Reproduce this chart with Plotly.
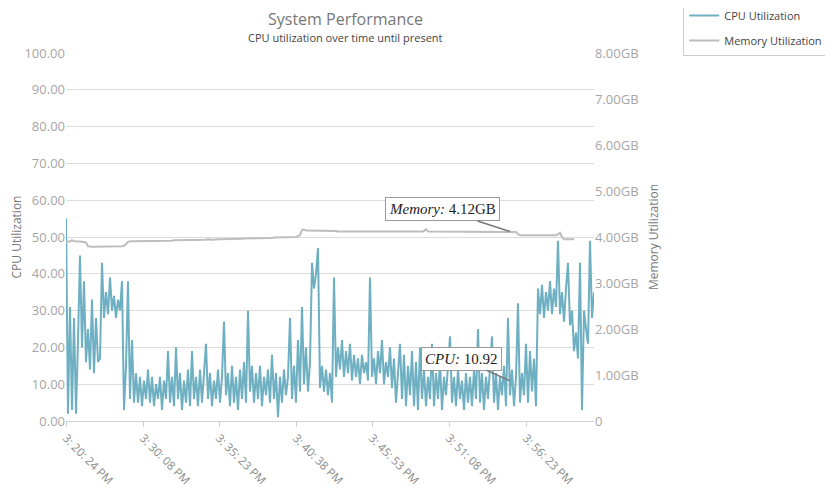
import plotly.graph_objects as go

# CPU utilization (%) per sample
cpu_util = [
    55, 2, 31, 3, 28, 2, 22, 45, 20, 38, 16, 25, 14, 33, 13, 28, 16, 17, 43, 28,
    35, 29, 39, 30, 34, 28, 33, 30, 38, 3, 15, 38, 6, 22, 5, 13, 5, 12, 4, 11,
    6, 14, 5, 12, 4, 10, 6, 12, 3, 11, 6, 19, 5, 12, 4, 20, 6, 13, 3, 11,
    5, 14, 4, 19, 6, 12, 4, 14, 5, 12, 21, 6, 13, 4, 11, 6, 14, 5, 12, 27,
    7, 13, 4, 15, 5, 12, 3, 14, 6, 16, 5, 30, 8, 15, 5, 13, 6, 15, 4, 12,
    7, 14, 5, 18, 6, 13, 1, 12, 5, 14, 7, 12, 28, 6, 15, 5, 22, 8, 31, 10,
    20, 8, 16, 43, 36, 40, 47, 9, 15, 8, 14, 7, 13, 5, 39, 12, 20, 14, 22, 12,
    19, 13, 21, 11, 18, 12, 17, 10, 18, 13, 16, 11, 39, 12, 17, 10, 19, 13, 22, 10,
    16, 12, 20, 9, 17, 5, 14, 21, 6, 18, 4, 15, 7, 19, 4, 16, 3, 20, 6, 14,
    4, 12, 6, 21, 4, 13, 6, 16, 3, 12, 7, 15, 23, 5, 12, 4, 14, 6, 11, 3,
    13, 5, 12, 4, 14, 6, 25, 5, 13, 3, 12, 6, 14, 23, 5, 13, 3, 12, 7, 15,
    4, 28, 7, 14, 4, 12, 32, 5, 13, 7, 21, 5, 19, 8, 17, 4, 36, 29, 37, 28,
    35, 30, 38, 29, 36, 31, 49, 29, 35, 27, 36, 43, 26, 30, 19, 24, 17, 43, 3, 30,
    25, 21, 49, 28, 35,
]

# Memory utilization (GB) per sample
mem_gb = [
    3.88, 3.90, 3.90, 3.93, 3.91, 3.90, 3.90, 3.90, 3.89, 3.89,
    3.88, 3.80, 3.79, 3.79, 3.79, 3.79, 3.79, 3.79, 3.80, 3.80,
    3.80, 3.80, 3.80, 3.80, 3.80, 3.80, 3.80, 3.80, 3.80, 3.81,
    3.84, 3.90, 3.91, 3.91, 3.91, 3.91, 3.91, 3.91, 3.91, 3.91,
    3.91, 3.91, 3.92, 3.92, 3.92, 3.92, 3.92, 3.92, 3.92, 3.92,
    3.92, 3.92, 3.92, 3.92, 3.93, 3.93, 3.93, 3.93, 3.93, 3.93,
    3.93, 3.93, 3.93, 3.93, 3.93, 3.93, 3.94, 3.94, 3.94, 3.94,
    3.94, 3.95, 3.94, 3.94, 3.94, 3.95, 3.95, 3.95, 3.95, 3.95,
    3.95, 3.96, 3.96, 3.96, 3.96, 3.96, 3.96, 3.96, 3.96, 3.97,
    3.97, 3.97, 3.97, 3.97, 3.97, 3.98, 3.98, 3.98, 3.98, 3.98,
    3.98, 3.98, 3.98, 3.98, 3.99, 3.99, 3.99, 3.99, 3.99, 3.99,
    3.99, 4.00, 4.00, 4.00, 4.00, 4.00, 4.02, 4.04, 4.15, 4.16,
    4.14, 4.14, 4.14, 4.14, 4.14, 4.13, 4.13, 4.13, 4.13, 4.13,
    4.13, 4.13, 4.13, 4.13, 4.13, 4.13, 4.12, 4.12, 4.12, 4.12,
    4.12, 4.12, 4.12, 4.12, 4.12, 4.12, 4.12, 4.12, 4.12, 4.12,
    4.12, 4.12, 4.12, 4.11, 4.12, 4.12, 4.12, 4.12, 4.12, 4.12,
    4.12, 4.12, 4.12, 4.12, 4.12, 4.12, 4.12, 4.12, 4.12, 4.12,
    4.12, 4.12, 4.12, 4.12, 4.12, 4.12, 4.12, 4.12, 4.12, 4.13,
    4.17, 4.12, 4.12, 4.12, 4.12, 4.12, 4.12, 4.12, 4.12, 4.12,
    4.12, 4.12, 4.12, 4.12, 4.12, 4.12, 4.12, 4.12, 4.12, 4.12,
    4.12, 4.12, 4.12, 4.12, 4.12, 4.12, 4.12, 4.12, 4.12, 4.12,
    4.12, 4.12, 4.12, 4.12, 4.12, 4.12, 4.12, 4.12, 4.12, 4.12,
    4.12, 4.12, 4.12, 4.12, 4.12, 4.11, 4.06, 4.04, 4.04, 4.04,
    4.04, 4.04, 4.04, 4.04, 4.04, 4.04, 4.04, 4.04, 4.04, 4.04,
    4.04, 4.04, 4.04, 4.04, 4.04, 4.04, 4.06, 4.09, 4.00, 3.95,
    3.95, 3.95, 3.95, 3.95, 3.95,
]

sample = list(range(len(cpu_util)))

tick_idx = [0, 38.5, 76.5, 115, 153, 191.5, 230]
tick_text = ["3: 20: 24 PM", "3: 30: 08 PM", "3: 35: 23 PM", "3: 40: 38 PM",
             "3: 45: 53 PM", "3: 51: 08 PM", "3: 56: 23 PM"]

mem_ticks = [0, 1, 2, 3, 4, 5, 6, 7, 8]
mem_tick_text = ["0", "1.00GB", "2.00GB", "3.00GB", "4.00GB",
                 "5.00GB", "6.00GB", "7.00GB", "8.00GB"]

# tooltip callouts
callout_idx = 222
callout_cpu = 10.92
callout_mem = 4.12

font = "Open Sans, Arial, sans-serif"
grid = "#dcdcdc"
label_grey = "#a6a6a6"

fig = go.Figure()
fig.add_trace(go.Scatter(x=sample, y=cpu_util, mode="lines", name="CPU Utilization",
                         legendgroup="cpu",
                         line=dict(color="#6eb0c2", width=2)))
fig.add_trace(go.Scatter(x=sample, y=mem_gb, mode="lines", name="Memory Utilization",
                         legendgroup="mem", yaxis="y2",
                         line=dict(color="#bdbdbd", width=2)))

# the page body adds an 8px offset, so the figure is 8px smaller on each side
fig.update_layout(
    width=825, height=481,
    margin=dict(l=58, r=239, t=45, b=68, autoexpand=False),
    paper_bgcolor="white", plot_bgcolor="white",
    font=dict(family=font, color="#666"),
    xaxis=dict(range=[0, len(cpu_util) - 1], tickvals=tick_idx, ticktext=tick_text,
               tickangle=45, showgrid=False, zeroline=False, showline=True,
               linecolor="#d0d0d0", linewidth=1, ticks="outside", ticklen=5,
               tickcolor="#d0d0d0", tickfont=dict(size=11.5, color="#8a8a8a"),
               automargin=False),
    yaxis=dict(range=[0, 100], dtick=10, tickformat=".2f", showgrid=True,
               gridcolor=grid, zeroline=False, showline=False, automargin=False,
               tickfont=dict(size=13, color=label_grey),
               title=dict(text="CPU Utilization", standoff=12,
                          font=dict(size=12, color="#777"))),
    yaxis2=dict(range=[0, 8], overlaying="y", side="right", tickvals=mem_ticks,
                ticktext=mem_tick_text, showgrid=False, zeroline=False, showline=False,
                automargin=False, tickfont=dict(size=13, color=label_grey),
                title=dict(text="Memory Utilization", standoff=12,
                           font=dict(size=12, color="#777"))),
    legend=dict(x=1.169, y=1.144, xanchor="left", yanchor="top",
                bordercolor="#cccccc", borderwidth=1, bgcolor="white",
                font=dict(size=11, color="#444"), itemwidth=30, tracegroupgap=6),
    showlegend=True,
)

fig.add_annotation(text="System Performance", xref="paper", yref="paper",
                   x=0.53, y=1.0924, xanchor="center", yanchor="middle",
                   showarrow=False, font=dict(size=16, color="#777"))
fig.add_annotation(text="CPU utilization over time until present", xref="paper",
                   yref="paper", x=0.53, y=1.042, xanchor="center", yanchor="middle",
                   showarrow=False, font=dict(size=11, color="#444"))

box = dict(showarrow=True, arrowhead=0, arrowwidth=1.5, arrowcolor="#777",
           bgcolor="white", bordercolor="#999", borderwidth=1, borderpad=3,
           font=dict(family="Liberation Serif, Times New Roman, serif", size=15,
                     color="#222"))
fig.add_annotation(x=callout_idx, y=callout_mem, yref="y2", ax=-68, ay=-22,
                   text="<i>Memory:</i> %.2fGB" % callout_mem, **box)
fig.add_annotation(x=callout_idx, y=callout_cpu, yref="y", ax=-49, ay=-22,
                   text="<i>CPU:</i> %.2f" % callout_cpu, **box)

fig.write_html("out.html")
